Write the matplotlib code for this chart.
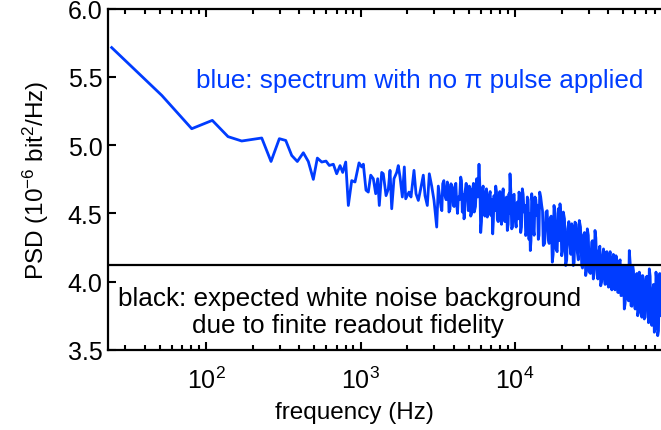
import matplotlib
matplotlib.use("Agg")
from matplotlib import pyplot as plt
from matplotlib.ticker import FixedLocator, FormatStrFormatter, LogLocator, NullFormatter

plt.rcParams["font.family"] = ["Liberation Sans", "DejaVu Sans"]
plt.rcParams["mathtext.fontset"] = "custom"
plt.rcParams["mathtext.rm"] = "Liberation Sans"
plt.rcParams["mathtext.it"] = "Liberation Sans:italic"
plt.rcParams["mathtext.default"] = "regular"

BLUE = "#003cff"

# Spectre basse fréquence (points espacés)
low_freq = [24.5, 51.7, 80.8, 109.8, 138.8, 170.2, 229.4, 263.5, 298.2, 328.1,
            358.7, 389.9, 426.4, 459.3, 494.9, 525.4, 561, 598, 628]
low_psd = [5.714, 5.364, 5.12, 5.181, 5.062, 5.03, 5.052, 4.88, 5.047, 5.034,
           4.924, 4.88, 4.944, 4.88, 4.749, 4.905, 4.876, 4.883, 4.851]

# ~0.7 - 3 kHz
mid_freq = [667, 701, 737, 767, 802, 834, 877, 921, 978, 1018,
            1043, 1085, 1123, 1164, 1210, 1254, 1292, 1323, 1371, 1404,
            1463, 1514, 1552, 1592, 1647, 1715, 1756, 1802, 1865, 1921,
            1961, 2060, 2122, 2219, 2287, 2367, 2452, 2549, 2615, 2706,
            2788, 2889, 2990, 3113, 3188]
mid_psd = [4.86, 4.79, 4.85, 4.80, 4.876, 4.558, 4.74, 4.73, 4.87, 4.84,
           4.86, 4.67, 4.656, 4.78, 4.754, 4.644, 4.754, 4.558, 4.80, 4.79,
           4.63, 4.68, 4.815, 4.534, 4.754, 4.80, 4.85, 4.766, 4.62, 4.84,
           4.607, 4.656, 4.62, 4.815, 4.644, 4.595, 4.68, 4.78, 4.63, 4.558,
           4.79, 4.70, 4.595, 4.40, 4.70]

# ~3 - 15 kHz
high_freq = [3319, 3404, 3523, 3646, 3739, 3852, 3986, 4089, 4194, 4295,
             4451, 4559, 4676, 4746, 4912, 5060, 5167, 5323, 5451, 5650,
             5847, 5997, 6142, 6300, 6461, 6617, 6817, 6992, 7172, 7312,
             7500, 7681, 7878, 8080, 8275, 8487, 8706, 8916, 9144, 9281,
             9520, 9749, 9999, 10348, 10613, 10887, 11149, 11435, 11728, 12011,
             12319, 12560, 12825, 13135, 13471, 13817, 14150, 14449]
high_psd = [4.546, 4.717, 4.63, 4.73, 4.51, 4.717, 4.558, 4.70, 4.57, 4.62,
            4.766, 4.51, 4.46, 4.656, 4.62, 4.70, 4.48, 4.68, 4.51, 4.754,
            4.86, 4.36, 4.67, 4.534, 4.644, 4.473, 4.63, 4.485, 4.35, 4.63,
            4.70, 4.46, 4.607, 4.46, 4.62, 4.534, 4.595, 4.375, 4.644, 4.79,
            4.387, 4.63, 4.46, 4.583, 4.656, 4.36, 4.68, 4.51, 4.338, 4.62,
            4.31, 4.228, 4.644, 4.387, 4.62, 4.485, 4.31, 4.656]
# bins intermédiaires (bande dense)
high_freq_b = [3361, 3463, 3584, 3692, 3795, 3918, 4037, 4141, 4244, 4372,
               4505, 4617, 4711, 4828, 4985, 5113, 5244, 5386, 5549, 5747,
               5921, 6069, 6220, 6380, 6538, 6716, 6904, 7081, 7241, 7405,
               7590, 7778, 7978, 8177, 8380, 8596, 8810, 9030, 9212, 9400,
               9634, 9873, 10172, 10480, 10749, 11017, 11291, 11581, 11869, 12164,
               12439, 12692, 12979, 13302, 13643, 13982, 14299, 14667]
high_psd_b = [4.52, 4.74, 4.60, 4.70, 4.53, 4.69, 4.55, 4.72, 4.50, 4.60,
              4.74, 4.64, 4.48, 4.72, 4.52, 4.68, 4.50, 4.72, 4.55, 4.62,
              4.70, 4.44, 4.70, 4.48, 4.68, 4.50, 4.66, 4.60, 4.44, 4.52,
              4.66, 4.44, 4.66, 4.42, 4.68, 4.44, 4.62, 4.42, 4.50, 4.66,
              4.40, 4.64, 4.40, 4.46, 4.62, 4.40, 4.64, 4.56, 4.36, 4.60,
              4.50, 4.30, 4.58, 4.34, 4.60, 4.56, 4.34, 4.62]

# ~15 - 87 kHz
top_freq = [14887, 15246, 15872, 16426, 16846, 17434, 17881, 18423, 19065, 19554,
            20056, 20540, 21287, 21930, 22696, 23279, 23840, 24452, 25306, 26071,
            27021, 27672, 28680, 29372, 30261, 31363, 32118, 32943, 33790, 34966,
            35864, 36947, 37840, 38811, 39807, 40767, 41813, 42885, 43725, 45047,
            46203, 47321, 48532, 49777, 50980, 52287, 53627, 54924, 56332, 57776,
            59173, 60690, 62246, 63752, 65385, 67060, 68683, 70443, 72249, 73996,
            75893, 77838, 79721, 81763, 83861, 85887, 87178]
top_psd = [4.558, 4.265, 4.51, 4.31, 4.46, 4.143, 4.558, 4.24, 4.534, 4.57,
           4.19, 4.51, 4.118, 4.387, 4.265, 4.424, 4.118, 4.436, 4.216, 4.448,
           4.118, 4.338, 4.045, 4.387, 4.07, 4.29, 4.02, 4.375, 4.118, 4.228,
           3.97, 4.19, 4.045, 4.216, 3.996, 4.18, 3.96, 4.167, 4.02, 4.19,
           3.923, 4.143, 3.898, 4.118, 3.80, 4.118, 3.874, 4.228, 3.825, 4.118,
           3.874, 4.045, 3.751, 4.07, 3.776, 4.045, 3.727, 3.996, 3.874, 4.094,
           3.703, 3.923, 3.63, 4.07, 3.605, 4.02, 3.751]
top_freq_b = [15066, 15557, 16147, 16635, 17138, 17656, 18150, 18742, 19308, 19804,
              20297, 20912, 21607, 22311, 22986, 23558, 24145, 24877, 25687, 26544,
              27345, 28174, 29025, 29815, 30810, 31739, 32529, 33365, 34376, 35413,
              36404, 37392, 38324, 39307, 40286, 41288, 42347, 43304, 44384, 45624,
              46760, 47925, 49153, 50377, 51632, 52955, 54274, 55626, 57052, 58473,
              59930, 61466, 62997, 64567, 66220, 67870, 69561, 71344, 73120, 74943,
              76864, 78778, 80740, 82810, 84872, 86531]
top_psd_b = [4.52, 4.28, 4.52, 4.28, 4.48, 4.20, 4.50, 4.22, 4.30, 4.48,
             4.22, 4.46, 4.16, 4.44, 4.20, 4.40, 4.14, 4.42, 4.16, 4.40,
             4.10, 4.36, 4.08, 4.34, 4.06, 4.30, 4.06, 4.32, 4.02, 4.26,
             4.00, 4.24, 3.98, 4.22, 3.96, 4.22, 3.94, 4.20, 3.94, 4.16,
             3.92, 4.16, 3.90, 4.12, 3.84, 4.10, 3.86, 4.14, 3.82, 4.08,
             3.80, 4.06, 3.78, 4.04, 3.74, 4.02, 3.74, 4.04, 3.70, 4.04,
             3.68, 3.98, 3.66, 4.00, 3.64, 4.06]

noise_floor = 4.12  # fond blanc attendu (fidélité de lecture finie)

x_ticks = [1e2, 1e3, 1e4]
y_ticks = [3.5, 4.0, 4.5, 5.0, 5.5, 6.0]

all_freq = low_freq + mid_freq + high_freq + high_freq_b + top_freq + top_freq_b
all_psd = low_psd + mid_psd + high_psd + high_psd_b + top_psd + top_psd_b
spectrum = sorted(zip(all_freq, all_psd))
freq = [f for f, _ in spectrum]
psd = [p for _, p in spectrum]

fig = plt.figure(figsize=(6.61, 4.31), dpi=100)
ax = fig.add_axes([108 / 661, 80 / 431, 553 / 661, 341.5 / 431])

ax.plot(freq, psd, color=BLUE, lw=2.0)
ax.axhline(noise_floor, color="black", lw=1.6)

ax.set_xscale("log")
ax.set_xlim(23.2, 88100)
ax.set_ylim(3.5, 6.0)

ax.xaxis.set_major_locator(FixedLocator(x_ticks))
ax.xaxis.set_minor_locator(LogLocator(base=10, subs=range(2, 10)))
ax.xaxis.set_minor_formatter(NullFormatter())
ax.yaxis.set_major_locator(FixedLocator(y_ticks))
ax.yaxis.set_major_formatter(FormatStrFormatter("%.1f"))

ax.tick_params(which="both", direction="in", top=True, right=False, width=1.5,
               labelsize=18)
ax.tick_params(which="major", length=6)
ax.tick_params(which="minor", length=3.5)
ax.tick_params(axis="x", pad=12)
ax.tick_params(axis="y", pad=4)

for side in ["left", "bottom", "top"]:
    ax.spines[side].set_linewidth(1.6)
ax.spines["right"].set_visible(False)

ax.set_xlabel("frequency (Hz)", fontsize=17.5)
ax.xaxis.set_label_coords(0.445, -0.148, transform=ax.transAxes)
ax.xaxis.label.set_va("top")
ax.set_ylabel("PSD (10$^{-6}$ bit$^{2}$/Hz)", fontsize=17.5)
ax.yaxis.set_label_coords(-0.103, 0.5)

ax.text(86.2, 5.423, "blue: spectrum with no \u03c0 pulse applied",
        color=BLUE, fontsize=18.8, ha="left", va="baseline")
ax.text(26.9, 3.829, "black: expected white noise background",
        color="black", fontsize=18.8, ha="left", va="baseline")
ax.text(81.2, 3.632, "due to finite readout fidelity",
        color="black", fontsize=18.8, ha="left", va="baseline")

fig.savefig("out.png", dpi=100)
